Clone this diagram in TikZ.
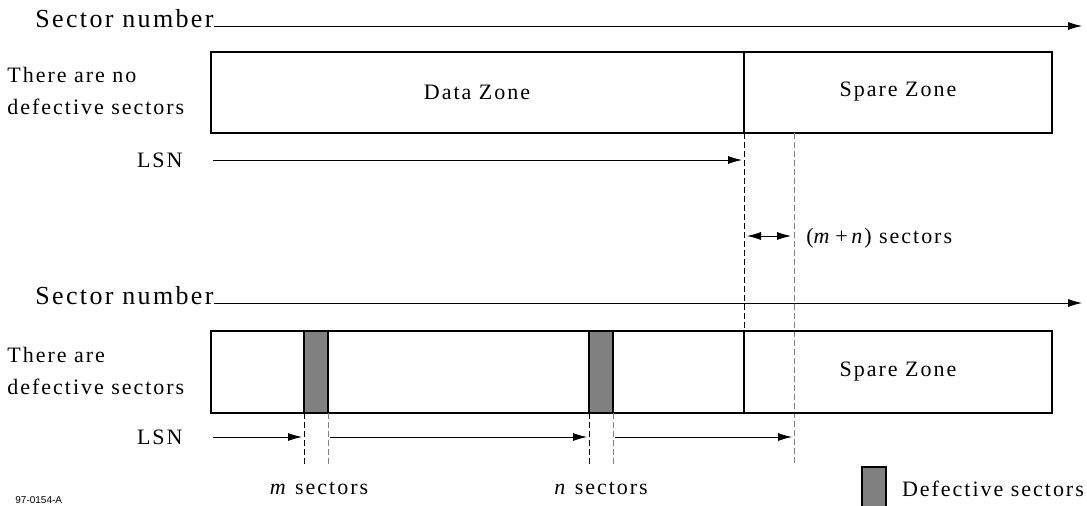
\documentclass[tikz,border=0pt]{standalone}
\usepackage{fontspec}
\setmainfont{Liberation Serif}[LetterSpace=9]
\newfontfamily\tinysans{Liberation Sans}
\usetikzlibrary{arrows.meta}

\tikzset{
  zone/.style={draw,line width=0.8pt},
  defect/.style={draw,line width=0.8pt,fill=gray},
  guide/.style={dash pattern=on 3pt off 1.5pt,line width=0.5pt},
  headtxt/.style={anchor=base west,inner sep=0pt,font=\fontsize{13}{15}\selectfont},
}

\begin{document}
\begin{tikzpicture}[>={Latex[length=7pt,width=4pt]},x=0.5pt,y=-0.5pt,font=\fontsize{11}{16}\selectfont]
\useasboundingbox (0,0) rectangle (1087,506);

% no defects
\node[headtxt] (sn1) at (35,28) {Sector number};
\coordinate (sn1end) at (1082,26);
\draw[->] (sn1.east |- sn1end) -- (sn1end);
\node[anchor=west,align=left,inner sep=0pt] (case1) at (7,91) {There are no\\defective sectors};
\draw[zone] (211,52) rectangle (1052,133);
\draw[zone] (744,52) -- (744,133);
\node (data1) at (477,92) {Data Zone};
\node (spare1) at (898,92) {Spare Zone};
\node[anchor=east,inner sep=0pt] (lsn1) at (183,160) {LSN};
\coordinate (l1a) at (213,160);
\coordinate (l1b) at (742,160);
\draw[->] (l1a) -- (l1b);

\coordinate (d1top) at (744,133);
\coordinate (d1bot) at (744,331);
\coordinate (d2top) at (794,133);
\coordinate (d2bot) at (794,465);
\draw[guide] (d1top) -- (d1bot);
\draw[guide,gray] (d2top) -- (d2bot);
\coordinate (w1) at (747,236);
\coordinate (w2) at (791,236);
\draw[<->] (w1) -- (w2);
\node[anchor=west,inner sep=0pt] (mn) at (806,238) {(\textit{m}\,+\,\textit{n}) sectors};

% with defects
\node[headtxt] (sn2) at (35,305) {Sector number};
\coordinate (sn2end) at (1082,303);
\draw[->] (sn2.east |- sn2end) -- (sn2end);
\node[anchor=west,align=left,inner sep=0pt] (case2) at (7,371) {There are\\defective sectors};
\draw[zone] (211,331) rectangle (1052,413);
\draw[zone] (744,331) -- (744,413);
\draw[defect] (304,331) rectangle (328,413);
\draw[defect] (589,331) rectangle (613,413);
\node (spare2) at (898,372) {Spare Zone};
\node[anchor=east,inner sep=0pt] (lsn2) at (183,437) {LSN};
\coordinate (l2a) at (213,437);
\coordinate (l2b) at (302,437);
\coordinate (l2c) at (330,437);
\coordinate (l2d) at (587,437);
\coordinate (l2e) at (615,437);
\coordinate (l2f) at (792,437);
\draw[->] (l2a) -- (l2b);
\draw[->] (l2c) -- (l2d);
\draw[->] (l2e) -- (l2f);

\foreach \x/\c in {304/black,328/gray,589/black,613/gray}
  \draw[guide,\c] (\x,413) -- (\x,465);
\node (msec) at (319,488) {\textit{m} sectors};
\node (nsec) at (601,488) {\textit{n} sectors};

% legend
\draw[defect] (862,467) rectangle (886,515);
\node[anchor=west] (legend) at (895,489) {Defective sectors};
\node[anchor=north west,inner sep=0pt,font=\tinysans\fontsize{5}{6}\selectfont] (tag) at (15,496) {97-0154-A};
\end{tikzpicture}
\end{document}
